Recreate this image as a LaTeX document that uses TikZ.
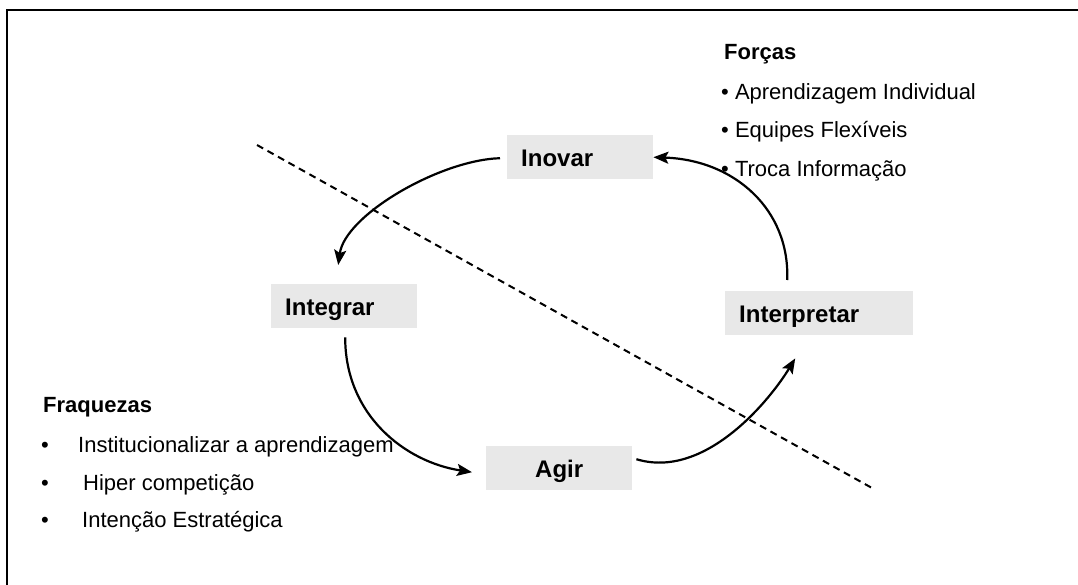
\documentclass[tikz,border=0pt]{standalone}
\usepackage{fontspec}
\setmainfont{Liberation Sans}
\usetikzlibrary{arrows.meta}

\definecolor{boxgray}{RGB}{232,232,232}
\def\labelfont{\fontsize{24}{28}\selectfont\bfseries}
\def\listfont{\fontsize{22}{26}\selectfont}
\def\headfont{\fontsize{22}{26}\selectfont\bfseries}

\tikzset{
  cyclebox/.style={fill=boxgray, anchor=north west, inner xsep=14pt, inner ysep=0pt,
    minimum height=44pt, text width=118pt, text height=19pt, text depth=0pt,
    font=\labelfont, align=left},
  cyclearrow/.style={line width=2.2pt, -{Stealth[length=15pt,width=12pt,inset=3pt]}},
  listtext/.style={anchor=base west, inner sep=0pt, font=\listfont},
  listhead/.style={anchor=base west, inner sep=0pt, font=\headfont},
  listdot/.style={anchor=base, inner sep=0pt, font=\listfont}
}

\begin{document}
\begin{tikzpicture}[x=1pt, y=-1pt]
  \useasboundingbox (0,0) rectangle (1078,585);
  \draw[line width=2pt] (7,585) -- (7,10) -- (1078,10);

  \node[cyclebox] (inovar) at (507,135) {Inovar};
  \node[cyclebox] (integrar) at (271,284) {Integrar};
  \node[cyclebox, align=center] (agir) at (486,446) {Agir};
  \node[cyclebox, text width=160pt] (interpretar) at (725,291) {Interpretar};

  \draw[line width=2pt, dash pattern=on 7pt off 5pt] (257,145) -- (872,488);

  \draw[cyclearrow] ([shift={(-7,1)}]inovar.west) .. controls (440,160) and (345,215) .. ([shift={(-6,-19)}]integrar.north);
  \draw[cyclearrow] ([shift={(1,9)}]integrar.south) .. controls (345,415) and (405,462) .. ([shift={(-14,4)}]agir.west);
  \draw[cyclearrow] ([shift={(4,-9)}]agir.east) .. controls (705,480) and (770,400) .. ([shift={(-24,23)}]interpretar.south);
  \draw[cyclearrow] ([shift={(-32,-11)}]interpretar.north) .. controls (790,210) and (735,160) .. (inovar.east);

  \node[listhead] (forcas) at (724,60) {Forças};
  \node[listtext] (forca1) at (721,100) {• Aprendizagem Individual};
  \node[listtext] (forca2) at (721,138) {• Equipes Flexíveis};
  \node[listtext] (forca3) at (721,177) {• Troca Informação};

  \node[listhead] (fraquezas) at (43,412) {Fraquezas};
  \node[listdot] (dot1) at (45,452) {•};
  \node[listdot] (dot2) at (45,490) {•};
  \node[listdot] (dot3) at (45,527) {•};
  \node[listtext] (fraqueza1) at (78,452) {Institucionalizar a aprendizagem};
  \node[listtext] (fraqueza2) at (83,490) {Hiper competição};
  \node[listtext] (fraqueza3) at (82,527) {Intenção Estratégica};
\end{tikzpicture}
\end{document}
